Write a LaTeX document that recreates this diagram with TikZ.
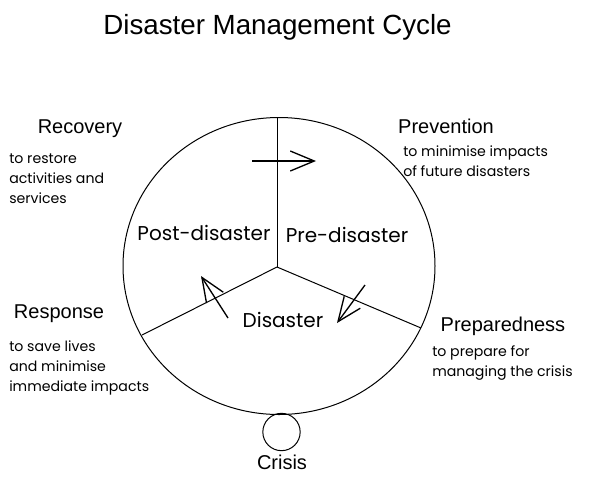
\documentclass[tikz,border=0pt]{standalone}
\usepackage{fontspec}
\setmainfont{Liberation Sans}
\newfontfamily\handfont{Poppins}
\usetikzlibrary{arrows.meta,shapes.geometric}

\begin{document}
\begin{tikzpicture}[x=0.75pt, y=-0.75pt,
    phase/.style={font=\fontsize{15}{18}\selectfont},
    note/.style={font=\handfont\fontsize{10.6}{15}\selectfont, align=left, anchor=north west, inner sep=0pt},
    sector/.style={font=\handfont\fontsize{15}{18}\selectfont},
    flow/.style={-{Straight Barb[length=18pt,width=15pt]}, line width=1pt},
  ]
  \useasboundingbox (0,0) rectangle (596,483);

  % Title
  \node[font=\fontsize{20.8}{25}\selectfont] (title) at (277.5,27) {Disaster Management Cycle};

  % The cycle
  \node[ellipse, draw, line width=0.75pt, minimum width=234pt, minimum height=222.75pt, inner sep=0pt] (cycle) at (279,266) {};
  \coordinate (hub) at (277,267);
  \coordinate (top) at (277,117);
  \coordinate (left) at (142,335);
  \coordinate (right) at (421,328);
  \draw[line width=0.75pt] (hub) -- (top);
  \draw[line width=0.75pt] (hub) -- (left);
  \draw[line width=0.75pt] (hub) -- (right);

  % Sectors
  \node[sector] (post) at (204,233) {Post-disaster};
  \node[sector] (pre) at (347,235) {Pre-disaster};
  \node[sector] (dis) at (283,320) {Disaster};

  % Direction of the cycle
  \coordinate (a1s) at (252,161);
  \coordinate (a1e) at (316,161);
  \coordinate (a2s) at (365,285);
  \coordinate (a2e) at (337,323);
  \coordinate (a3s) at (228,318);
  \coordinate (a3e) at (201,276);
  \draw[flow] (a1s) -- (a1e);
  \draw[flow] (a2s) -- (a2e);
  \draw[flow] (a3s) -- (a3e);

  % Phases
  \node[phase] (recovery) at (80,129) {Recovery};
  \node[note] (recoverytxt) at (9,154) {to restore\\activities and\\services};
  \node[phase] (prevention) at (446,126) {Prevention};
  \node[note] (preventiontxt) at (403,145) {to minimise impacts\\of future disasters};
  \node[phase] (response) at (59,314) {Response};
  \node[note] (responsetxt) at (9,340) {to save lives\\and minimise\\immediate impacts};
  \node[phase] (preparedness) at (503,326) {Preparedness};
  \node[note] (preparednesstxt) at (432,345) {to prepare for\\managing the crisis};

  % Crisis
  \node[circle, draw, line width=0.75pt, minimum size=28pt, inner sep=0pt] (crisis) at (281.5,432) {};
  \node[phase] (crisislbl) at (282,462) {Crisis};
\end{tikzpicture}
\end{document}
